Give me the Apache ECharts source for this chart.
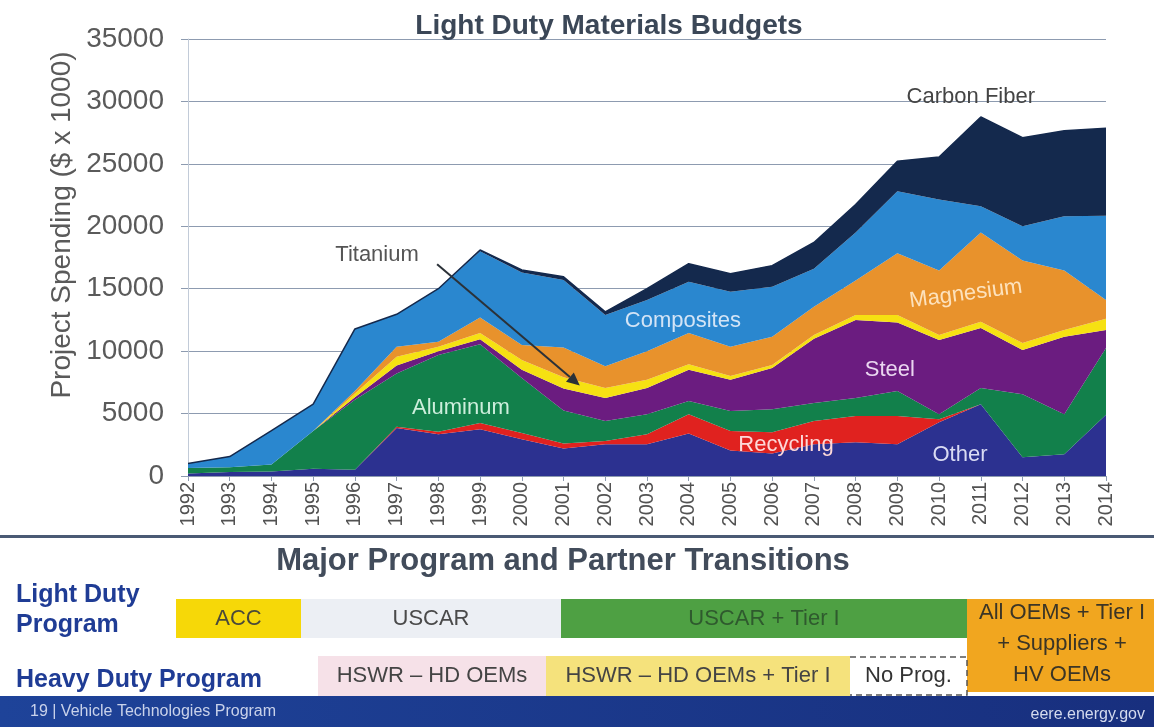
<!DOCTYPE html>
<html>
<head>
<meta charset="utf-8">
<script src="https://cdn.jsdelivr.net/npm/echarts@6/dist/echarts.min.js"></script>
<style>
  html, body { margin: 0; padding: 0; background: #ffffff; }
  #chart { width: 1154px; height: 727px; }
</style>
</head>
<body>
<div id="chart"></div>
<script>
// Fiscal years on the horizontal axis
const years = ['1992','1993','1994','1995','1996','1997','1998','1999','2000','2001','2002',
               '2003','2004','2005','2006','2007','2008','2009','2010','2011','2012','2013','2014'];

// Project spending per material ($ x 1000), stacked bottom to top
const other       = [200, 320, 370, 590, 500, 3850, 3350, 3750, 2950, 2200, 2550, 2550, 3400, 2050, 1800, 2550, 2700, 2550, 4300, 5750, 1500, 1750, 4900];
const recycling   = [0, 0, 0, 0, 0, 100, 200, 500, 500, 400, 250, 800, 1550, 1550, 1700, 1850, 2100, 2250, 250, 0, 0, 0, 0];
const aluminum    = [450, 380, 560, 3010, 5600, 4250, 6150, 6300, 4400, 2650, 1600, 1600, 1050, 1600, 1850, 1450, 1450, 2000, 400, 1300, 5050, 3200, 5350];
const steel       = [0, 0, 0, 0, 200, 650, 300, 400, 650, 1750, 1850, 2100, 2500, 2500, 3300, 5150, 6250, 5500, 5950, 4800, 3550, 6200, 1450];
const titanium    = [0, 0, 0, 0, 300, 700, 350, 500, 800, 900, 800, 650, 450, 300, 250, 300, 400, 600, 400, 500, 550, 550, 900];
const magnesium   = [0, 0, 0, 0, 200, 800, 400, 1250, 1200, 2400, 1750, 2300, 2500, 2350, 2250, 2250, 2750, 4950, 5150, 7150, 6600, 4750, 1500];
const composites  = [350, 860, 2700, 2150, 4980, 2600, 4250, 5300, 5800, 5400, 4100, 4100, 4100, 4400, 4000, 3050, 3850, 4950, 5700, 2100, 2750, 4350, 6750];
const carbonFiber = [0, 0, 0, 0, 0, 0, 0, 100, 200, 250, 250, 900, 1450, 1450, 1700, 2100, 2250, 2400, 3400, 7150, 7100, 6850, 7000];

// Value axis ticks
const yTicks = [0, 5000, 10000, 15000, 20000, 25000, 30000, 35000];

// Program transition boxes (labels)
const lightDutyPrograms = ['ACC', 'USCAR', 'USCAR + Tier I'];
const heavyDutyPrograms = ['HSWR – HD OEMs', 'HSWR – HD OEMs + Tier I', 'No Prog.'];
const sharedProgramLines = ['All OEMs + Tier I', '+ Suppliers +', 'HV OEMs'];

const FONT = '"Liberation Sans", Arial, sans-serif';

const seriesDefs = [
  { name: 'Other',        data: other,       color: '#2c3190' },
  { name: 'Recycling',    data: recycling,   color: '#e0221f' },
  { name: 'Aluminum',     data: aluminum,    color: '#12804b' },
  { name: 'Steel',        data: steel,       color: '#6b1c80' },
  { name: 'Titanium',     data: titanium,    color: '#f6e112' },
  { name: 'Magnesium',    data: magnesium,   color: '#e8922c' },
  { name: 'Composites',   data: composites,  color: '#2a87cf' },
  { name: 'Carbon Fiber', data: carbonFiber, color: '#14294d' }
];

const chart = echarts.init(document.getElementById('chart'), null, { renderer: 'canvas' });

chart.setOption({
  animation: false,
  backgroundColor: '#ffffff',
  title: {
    text: 'Light Duty Materials Budgets',
    left: 604, top: 7, textAlign: 'center',
    textStyle: { fontFamily: FONT, fontSize: 28, fontWeight: 'bold', color: '#3b4757' }
  },
  grid: { left: 188, right: 48, top: 39, bottom: 251, containLabel: false },
  xAxis: {
    type: 'category',
    data: years,
    boundaryGap: false,
    axisLine: { lineStyle: { color: '#8d9bb0', width: 1 } },
    axisTick: { show: true, alignWithLabel: true, length: 5, lineStyle: { color: '#8d9bb0' } },
    axisLabel: { rotate: 90, fontFamily: FONT, fontSize: 20, color: '#525252', margin: 6, interval: 0 },
    splitLine: { show: false }
  },
  yAxis: {
    type: 'value',
    min: yTicks[0], max: yTicks[yTicks.length - 1], interval: 5000,
    axisLine: { show: true, lineStyle: { color: '#c2cbd8', width: 1 } },
    axisTick: { show: true, length: 7, lineStyle: { color: '#8d9bb0' } },
    axisLabel: { fontFamily: FONT, fontSize: 28, color: '#5a5a5a', margin: 24, formatter: v => String(v) },
    splitLine: { show: true, lineStyle: { color: '#8d9bb0', width: 1 } }
  },
  series: seriesDefs.map(s => ({
    name: s.name,
    type: 'line',
    stack: 'total',
    data: s.data,
    symbol: 'none',
    smooth: false,
    z: 2,
    lineStyle: { width: s.name === 'Carbon Fiber' ? 1.5 : 0, color: s.color },
    areaStyle: { color: s.color, opacity: 1 },
    itemStyle: { color: s.color }
  }))
});

// Pixel position of a (fractional) year index and a value on the chart scales
function toPx(idx, val) {
  const i0 = Math.max(0, Math.min(years.length - 2, Math.floor(idx)));
  const a = chart.convertToPixel({ gridIndex: 0 }, [i0, val]);
  const b = chart.convertToPixel({ gridIndex: 0 }, [i0 + 1, val]);
  const t = idx - i0;
  return [a[0] + (b[0] - a[0]) * t, a[1]];
}

// In-chart material labels, placed in data space
const areaLabels = [
  { text: 'Titanium',     at: [4.53, 17670], color: '#555555', rot: 0 },
  { text: 'Composites',   at: [11.86, 12440], color: '#d3e4f6', rot: 0 },
  { text: 'Magnesium',    at: [18.64, 14580], color: '#fde2bd', rot: 0.13 },
  { text: 'Steel',        at: [16.82, 8470],  color: '#ead6f0', rot: 0 },
  { text: 'Aluminum',     at: [6.54, 5450],   color: '#cdeedc', rot: 0 },
  { text: 'Recycling',    at: [14.33, 2520],  color: '#fdd8d8', rot: 0 },
  { text: 'Other',        at: [18.5, 1720],   color: '#d9dbf3', rot: 0 },
  { text: 'Carbon Fiber', at: [18.76, 30370], color: '#444444', rot: 0 }
];

const g = [];

areaLabels.forEach(l => {
  const p = toPx(l.at[0], l.at[1]);
  g.push({
    type: 'text', x: p[0], y: p[1], rotation: l.rot, z: 20,
    style: { text: l.text, fill: l.color, font: '22px ' + FONT, align: 'center', verticalAlign: 'middle' }
  });
});

// Arrow from the Titanium label down to its band
(function () {
  const s = toPx(5.97, 16960);
  const e = toPx(9.39, 7250);
  const ang = Math.atan2(e[1] - s[1], e[0] - s[0]);
  const L = 13, W = 6;
  const bx = e[0] - L * Math.cos(ang), by = e[1] - L * Math.sin(ang);
  g.push({ type: 'line', z: 20, shape: { x1: s[0], y1: s[1], x2: bx, y2: by }, style: { stroke: '#2b3138', lineWidth: 2 } });
  g.push({
    type: 'polygon', z: 20,
    shape: { points: [[e[0], e[1]], [bx + W * Math.sin(ang), by - W * Math.cos(ang)], [bx - W * Math.sin(ang), by + W * Math.cos(ang)]] },
    style: { fill: '#2b3138' }
  });
})();

// Y axis name
g.push({
  type: 'text', x: 62, y: 225, rotation: Math.PI / 2, z: 10,
  style: { text: 'Project Spending ($ x 1000)', fill: '#5a5a5a', font: '28px ' + FONT, align: 'center', verticalAlign: 'middle' }
});

// Divider between the budget chart and the program panel
g.push({ type: 'rect', shape: { x: 0, y: 535, width: 1154, height: 3 }, style: { fill: '#4a5a74' }, z: 5 });

// Program panel heading
g.push({
  type: 'text', x: 563, y: 561, z: 10,
  style: { text: 'Major Program and Partner Transitions', fill: '#424c5b', font: 'bold 31px ' + FONT, align: 'center', verticalAlign: 'middle' }
});

// Row headers
const rowHeadStyle = 'bold 25px ' + FONT;
g.push({ type: 'text', x: 16, y: 595, style: { text: 'Light Duty', fill: '#1f3c95', font: rowHeadStyle, verticalAlign: 'middle' } });
g.push({ type: 'text', x: 16, y: 625, style: { text: 'Program', fill: '#1f3c95', font: rowHeadStyle, verticalAlign: 'middle' } });
g.push({ type: 'text', x: 16, y: 680, style: { text: 'Heavy Duty Program', fill: '#1f3c95', font: rowHeadStyle, verticalAlign: 'middle' } });

function box(x, y, w, h, fill, label, color) {
  g.push({ type: 'rect', shape: { x: x, y: y, width: w, height: h }, style: { fill: fill }, z: 4 });
  if (label) {
    g.push({
      type: 'text', x: x + w / 2, y: y + h / 2, z: 6,
      style: { text: label, fill: color || '#454545', font: '22px ' + FONT, align: 'center', verticalAlign: 'middle' }
    });
  }
}

// Light duty row
box(176, 599, 125, 39, '#f6d808', lightDutyPrograms[0], '#4a4a3a');
box(301, 599, 260, 39, '#eceff4', lightDutyPrograms[1], '#4a4a4a');
box(561, 599, 406, 39, '#4ea043', lightDutyPrograms[2], '#2f5a2e');

// Heavy duty row
box(318, 656, 228, 40, '#f6e1e8', heavyDutyPrograms[0], '#444444');
box(546, 656, 304, 40, '#f5e27c', heavyDutyPrograms[1], '#444444');
box(850, 656, 117, 40, '#ffffff', heavyDutyPrograms[2], '#333333');
// dashed outline for the gap years
g.push({ type: 'polyline', z: 7, shape: { points: [[850, 657], [967, 657], [967, 695], [850, 695]] },
         style: { stroke: '#555555', lineWidth: 1.5, lineDash: [6, 4], fill: null } });

// Shared program box spanning both rows
g.push({ type: 'rect', shape: { x: 967, y: 599, width: 187, height: 93 }, style: { fill: '#f1a61f' }, z: 4 });
sharedProgramLines.forEach((t, i) => {
  g.push({
    type: 'text', x: 1062, y: 613 + i * 31, z: 6,
    style: { text: t, fill: '#3b3526', font: '22px ' + FONT, align: 'center', verticalAlign: 'middle' }
  });
});

// Footer band
g.push({
  type: 'rect', shape: { x: 0, y: 696, width: 1154, height: 31 }, z: 8,
  style: { fill: new echarts.graphic.LinearGradient(0, 0, 1, 0, [{ offset: 0, color: '#1e4399' }, { offset: 1, color: '#182f7e' }]) }
});
g.push({ type: 'text', x: 30, y: 712, z: 9, style: { text: '19 | Vehicle Technologies Program', fill: '#c9d2ea', font: '16px ' + FONT, verticalAlign: 'middle' } });
g.push({ type: 'text', x: 1145, y: 715, z: 9, style: { text: 'eere.energy.gov', fill: '#d4daee', font: '16px ' + FONT, align: 'right', verticalAlign: 'middle' } });

chart.setOption({ graphic: { elements: g } });
</script>
</body>
</html>
